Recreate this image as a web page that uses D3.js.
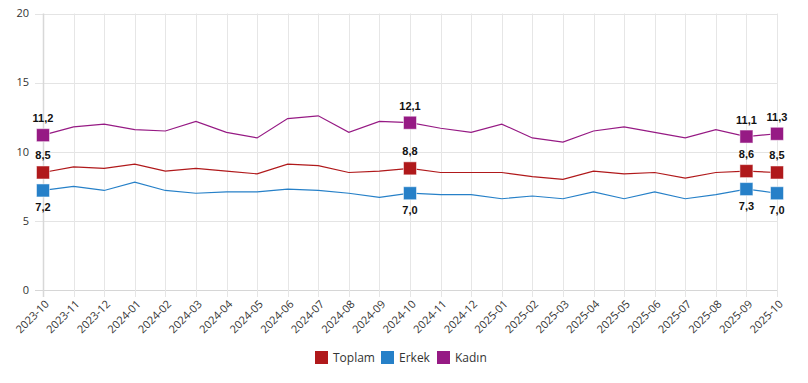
<!DOCTYPE html>
<html><head><meta charset="utf-8">
<script src="https://cdn.jsdelivr.net/npm/d3@7"></script>
<style>
html,body{margin:0;padding:0;background:#fff;}
svg{display:block;font-family:"Open Sans","Noto Sans",sans-serif;}
</style></head>
<body><svg id="c" width="808" height="383"></svg>
<script>
const categories = ["2023-10","2023-11","2023-12","2024-01","2024-02","2024-03","2024-04","2024-05","2024-06","2024-07","2024-08","2024-09","2024-10","2024-11","2024-12","2025-01","2025-02","2025-03","2025-04","2025-05","2025-06","2025-07","2025-08","2025-09","2025-10"];
const toplam = [8.5,8.9,8.8,9.1,8.6,8.8,8.6,8.4,9.1,9.0,8.5,8.6,8.8,8.5,8.5,8.5,8.2,8.0,8.6,8.4,8.5,8.1,8.5,8.6,8.5];
const erkek  = [7.2,7.5,7.2,7.8,7.2,7.0,7.1,7.1,7.3,7.2,7.0,6.7,7.0,6.9,6.9,6.6,6.8,6.6,7.1,6.6,7.1,6.6,6.9,7.3,7.0];
const kadin  = [11.2,11.8,12.0,11.6,11.5,12.2,11.4,11.0,12.4,12.6,11.4,12.2,12.1,11.7,11.4,12.0,11.0,10.7,11.5,11.8,11.4,11.0,11.6,11.1,11.3];
const yTicks = [0,5,10,15,20];
const markedIdx = [0,12,23,24];
const seriesNames = ["Toplam","Erkek","Kadın"];
const seriesColors = ["#b0191b","#2680c8","#961a84"];

const series = [
  {name:seriesNames[0], values:toplam, color:seriesColors[0], labelPos:"above"},
  {name:seriesNames[1], values:erkek,  color:seriesColors[1], labelPos:"below"},
  {name:seriesNames[2], values:kadin,  color:seriesColors[2], labelPos:"above"}
];

const svg = d3.select("#c");
const x = d3.scalePoint().domain(categories).range([43,777]);
const y = d3.scaleLinear().domain([0,20]).range([290,13.5]);

// horizontal grid
svg.append("g").selectAll("line").data(yTicks).join("line")
  .attr("x1",35).attr("x2",777.5)
  .attr("y1",d=>Math.round(y(d))+0.5).attr("y2",d=>Math.round(y(d))+0.5)
  .attr("stroke",d=>d===0?"#d6d6d6":"#e4e4e4").attr("stroke-width",1);

// vertical grid
svg.append("g").selectAll("line").data(categories).join("line")
  .attr("x1",d=>Math.round(x(d))+0.5).attr("x2",d=>Math.round(x(d))+0.5)
  .attr("y1",13.5).attr("y2",297)
  .attr("stroke",(d,i)=>i===0?"#d8d8d8":"#e6e6e6").attr("stroke-width",(d,i)=>i===0?1.5:1);

// y labels
svg.append("g").selectAll("text").data(yTicks).join("text")
  .attr("x",29).attr("y",d=>y(d)).attr("dy","0.35em")
  .attr("text-anchor","end").attr("font-size",11).attr("fill","#333")
  .text(d=>d);

// x labels
svg.append("g").selectAll("text").data(categories).join("text")
  .attr("transform",d=>`translate(${x(d)+4},${302}) rotate(-45)`)
  .attr("text-anchor","end").attr("font-size",11).attr("fill","#333")
  .attr("dy","0.35em")
  .text(d=>d);

const line = d3.line().x((d,i)=>x(categories[i])).y(d=>y(d));

series.forEach(s=>{
  svg.append("path").datum(s.values)
    .attr("fill","none").attr("stroke",s.color).attr("stroke-width",1.2)
    .attr("d",line);
});

series.forEach(s=>{
  const g = svg.append("g");
  g.selectAll("rect").data(markedIdx).join("rect")
    .attr("x",i=>x(categories[i])-6.5).attr("y",i=>y(s.values[i])-6.5)
    .attr("width",13).attr("height",13)
    .attr("fill",s.color).attr("stroke","#fff").attr("stroke-opacity",0.5).attr("stroke-width",1);
  g.selectAll("text").data(markedIdx).join("text")
    .attr("x",i=>x(categories[i]))
    .attr("y",i=>s.labelPos==="above"? y(s.values[i])-13 : y(s.values[i])+21)
    .attr("text-anchor","middle")
    .attr("font-family","'Liberation Sans',Arial,sans-serif")
    .attr("font-weight","bold").attr("font-size",11).attr("fill","#111")
    .text(i=>d3.format(".1f")(s.values[i]).replace(".",","));
});

// legend
const legX = [315,381,437];
const leg = svg.append("g");
series.forEach((s,k)=>{
  leg.append("rect").attr("x",legX[k]).attr("y",351).attr("width",13).attr("height",13)
    .attr("fill",s.color);
  leg.append("text").attr("x",legX[k]+18).attr("y",357.5).attr("dy","0.35em")
    .attr("font-size",12).attr("fill","#333").text(s.name);
});
</script></body></html>
